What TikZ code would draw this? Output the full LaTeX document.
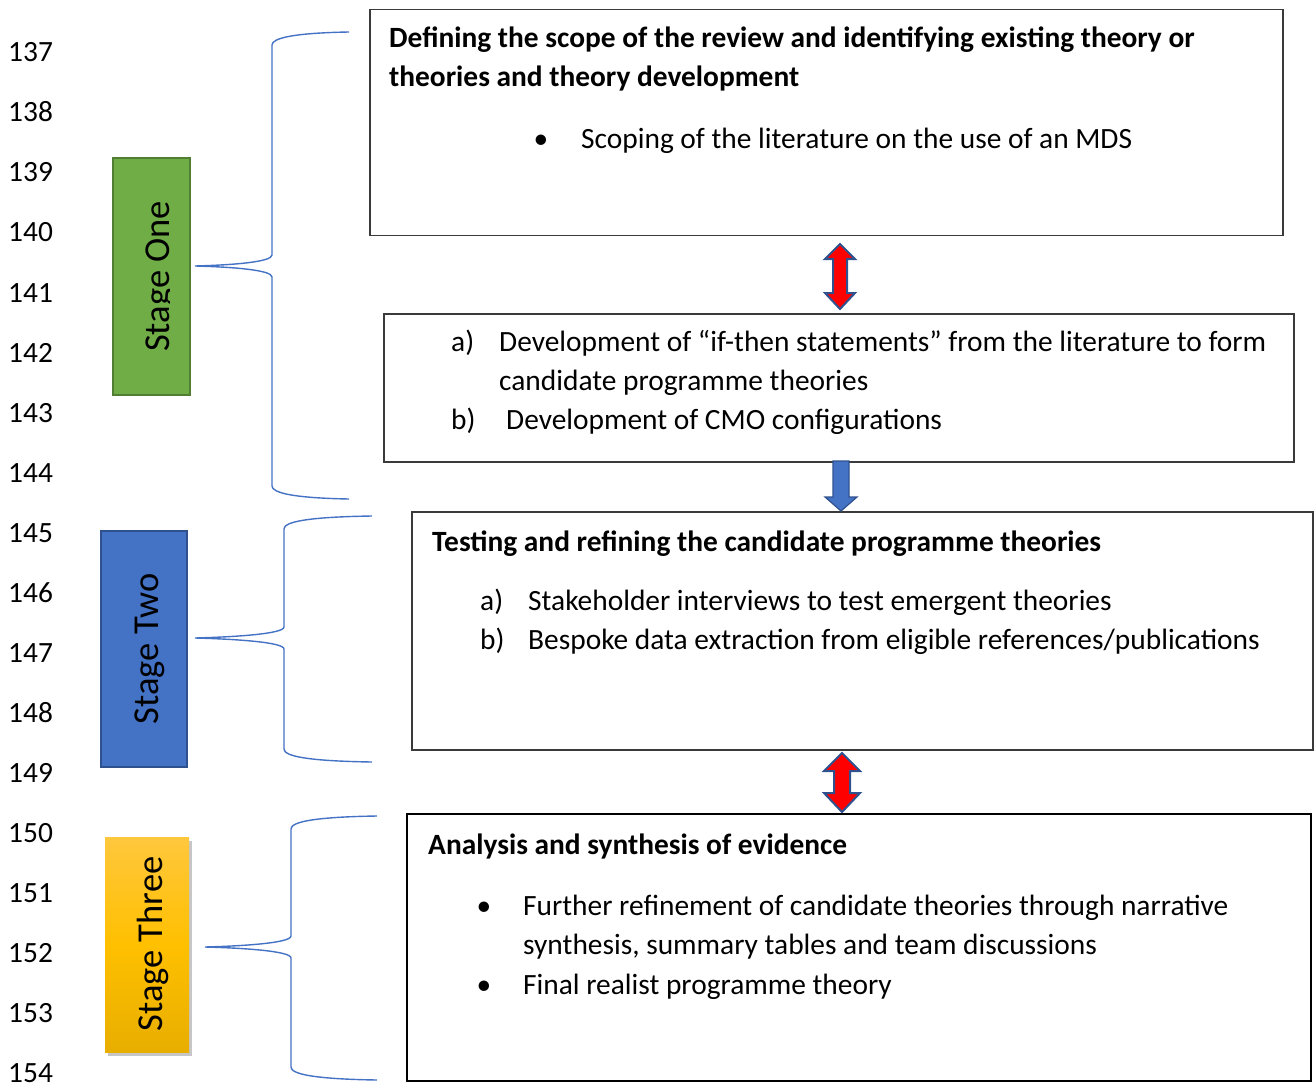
\documentclass[tikz,border=0pt]{standalone}
\usepackage{fontspec}
\setmainfont{Carlito}
\usetikzlibrary{shadows}

\definecolor{braceblue}{HTML}{4472C4}
\definecolor{outlineblue}{HTML}{2F528F}
\definecolor{stagegreen}{HTML}{70AD47}
\definecolor{stagegreenline}{HTML}{507E32}
\definecolor{stageblue}{HTML}{4472C4}
\definecolor{goldtop}{HTML}{FFC73D}
\definecolor{goldmid}{HTML}{FFC000}
\definecolor{goldbot}{HTML}{E8AE00}
\definecolor{boxline}{HTML}{3A3A3A}

% Curly brace from a tip at (#1,#2) to a spine at x=#3, ending at x=#4, between y=#5 and y=#6
\newcommand\stagebrace[6]{%
  \draw[bracestyle] (#4,#5) .. controls (#3+22,#5+1) and (#3,#5+6) .. (#3,#5+13)
    -- (#3,#2-11) .. controls (#3,#2-4) and (#1+38,#2-1) .. (#1,#2)
    .. controls (#1+38,#2+1) and (#3,#2+4) .. (#3,#2+11)
    -- (#3,#6-13) .. controls (#3,#6-6) and (#3+22,#6-1) .. (#4,#6);}

\begin{document}
\begin{tikzpicture}[x=1pt,y=-1pt,
  body/.style={font=\fontsize{29.4}{39}\selectfont, inner sep=0pt, anchor=base west},
  heading/.style={body, font=\fontsize{29.4}{39}\selectfont\bfseries},
  bulletmark/.style={font=\fontsize{29.4}{39}\selectfont, inner sep=0pt, anchor=base},
  stagetext/.style={font=\fontsize{36.5}{44}\selectfont, inner sep=0pt, anchor=base, rotate=90},
  frame/.style={draw=boxline, line width=1.5pt, fill=white, anchor=north west, inner sep=0pt},
  bracestyle/.style={draw=braceblue, line width=1.4pt},
  redarrow/.style={fill=red, draw=outlineblue, line width=2pt, line join=miter},
  bluearrow/.style={fill=stageblue, draw=outlineblue, line width=1.2pt, line join=miter},
  linenum/.style={font=\fontsize{29.4}{39}\selectfont, inner sep=0pt, anchor=base west}]

\useasboundingbox (0,0) rectangle (1316,1091);

% line numbers in the margin
\foreach \n [count=\i from 0] in {137,...,154}
  \node[linenum] (ln\n) at (8,62+60*\i) {\n};

% stage labels
\node[draw=stagegreenline, line width=2pt, fill=stagegreen, minimum width=77pt,
      minimum height=237pt, anchor=north west, inner sep=0pt] (s1) at (112,157) {};
\begin{scope}
  \clip (112,157) rectangle (169.5,394);
  \node[stagetext] (s1t) at (169,276.5) {Stage One};
\end{scope}

\node[draw=outlineblue, line width=2pt, fill=stageblue, minimum width=86pt,
      minimum height=236pt, anchor=north west, inner sep=0pt] (s2) at (100,530) {};
\node[stagetext] (s2t) at (158,649) {Stage Two};

\node[top color=goldtop, bottom color=goldbot, middle color=goldmid,
      minimum width=84pt, minimum height=215pt, anchor=north west, inner sep=0pt,
      drop shadow={shadow xshift=3pt, shadow yshift=-4pt, opacity=0.45}] (s3) at (105,837) {};
\node[stagetext] (s3t) at (162,944) {Stage Three};

% braces tying each stage to its boxes
\stagebrace{195}{266}{272}{349}{32}{499}
\stagebrace{195}{638}{284}{372}{516}{762}
\stagebrace{205}{947}{291}{377}{816}{1080}

% box 1
\node[frame, minimum width=913pt, minimum height=226pt] (b1) at (369,9) {};
\node[heading] (b1h1) at (389,48) {Defining the scope of the review and identifying existing theory or};
\node[heading] (b1h2) at (389,87) {theories and theory development};
\node[bulletmark] (b1d1) at (541,149) {•};
\node[body] (b1i1) at (581,149) {Scoping of the literature on the use of an MDS};

% box 2
\node[frame, minimum width=910pt, minimum height=148pt] (b2) at (383,313) {};
\node[body] (b2a) at (451,351) {a)};
\node[body] (b2a1) at (499,351) {Development of “if-then statements” from the literature to form};
\node[body] (b2a2) at (499,390) {candidate programme theories};
\node[body] (b2b) at (451,429) {b)};
\node[body] (b2b1) at (506,429) {Development of CMO configurations};

% box 3
\node[frame, minimum width=901pt, minimum height=238pt] (b3) at (411,511) {};
\node[heading] (b3h) at (432,551) {Testing and refining the candidate programme theories};
\node[body] (b3a) at (480,610) {a)};
\node[body] (b3a1) at (528,610) {Stakeholder interviews to test emergent theories};
\node[body] (b3b) at (480,649) {b)};
\node[body] (b3b1) at (528,649) {Bespoke data extraction from eligible references/publications};

% box 4
\node[frame, draw=black, minimum width=904pt, minimum height=267pt] (b4) at (406,813) {};
\node[heading] (b4h) at (428,854) {Analysis and synthesis of evidence};
\node[bulletmark] (b4d1) at (484,915) {•};
\node[body] (b4i1) at (523,915) {Further refinement of candidate theories through narrative};
\node[body] (b4i2) at (523,954) {synthesis, summary tables and team discussions};
\node[bulletmark] (b4d2) at (484,994) {•};
\node[body] (b4i3) at (523,994) {Final realist programme theory};

% block arrows between the boxes
\draw[redarrow] (840,244) -- (855,259) -- (847,259) -- (847,293) -- (855,293)
  -- (840,309) -- (825,293) -- (833,293) -- (833,259) -- (825,259) -- cycle;
\draw[bluearrow] (833,461) -- (849,461) -- (849,497) -- (857,497) -- (841,511)
  -- (825,497) -- (833,497) -- cycle;
\draw[redarrow] (842,753) -- (860,771) -- (850,771) -- (850,793) -- (860,793)
  -- (842,812) -- (824,793) -- (834,793) -- (834,771) -- (824,771) -- cycle;
\end{tikzpicture}
\end{document}
